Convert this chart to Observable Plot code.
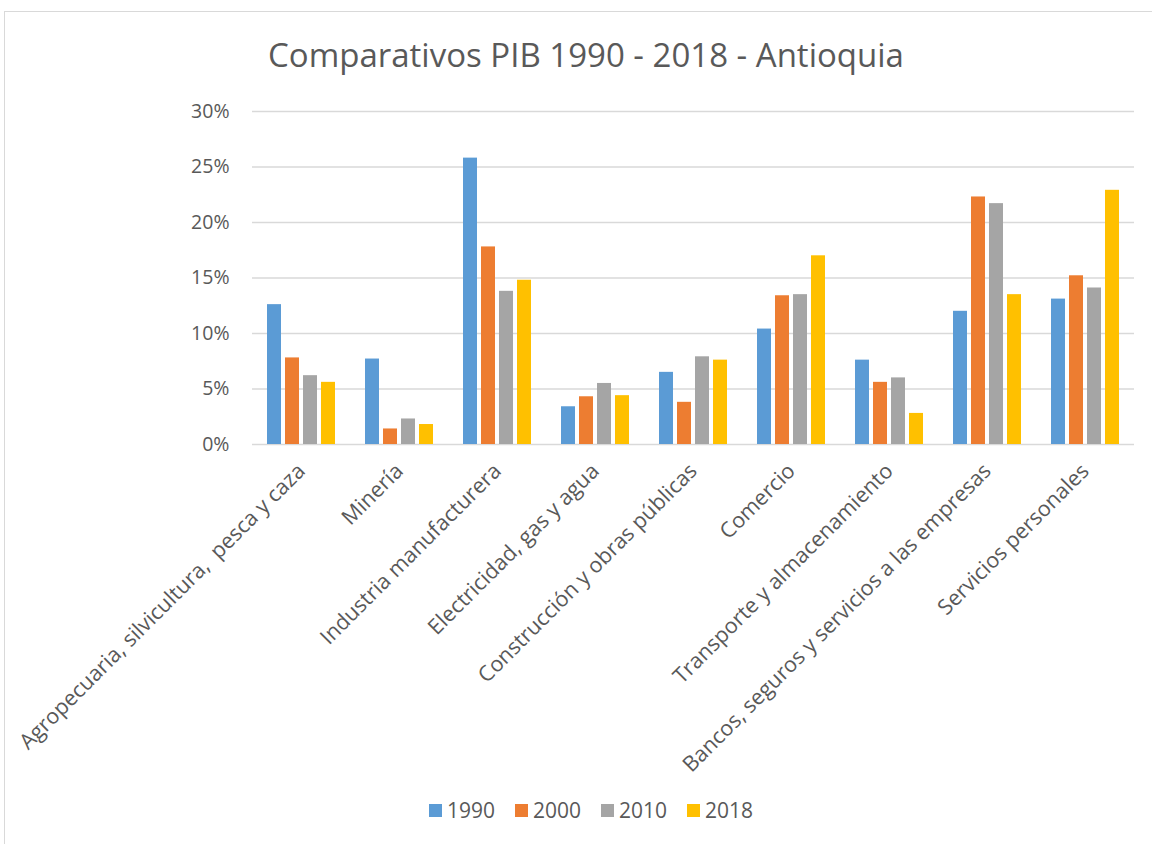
<!DOCTYPE html>
<html>
<head>
<meta charset="utf-8">
<script src="https://cdn.jsdelivr.net/npm/d3@7"></script>
<script src="https://cdn.jsdelivr.net/npm/@observablehq/plot@0.6"></script>
<style>
  html, body { margin: 0; padding: 0; background: #fff; }
  #wrap { position: relative; width: 1152px; height: 844px; overflow: hidden; font-family: "Open Sans", sans-serif; }
  #frame { position: absolute; left: 4px; top: 11px; width: 1170px; height: 850px; border: 1px solid #d9d9d9; box-sizing: border-box; }
  #title { position: absolute; left: 0; top: 32px; width: 1172px; text-align: center; font-size: 33px; color: #595959; font-weight: 400; }
  #chart { position: absolute; left: 0; top: 90px; }
  #legend { position: absolute; left: 0; top: 796px; width: 1182px; display: flex; justify-content: center; gap: 20px; font-size: 21px; color: #595959; }
  #legend .item { display: flex; align-items: center; gap: 5px; }
  #legend .sw { width: 13px; height: 13px; display: inline-block; }
</style>
</head>
<body>
<div id="wrap">
  <div id="frame"></div>
  <div id="title">Comparativos PIB 1990 - 2018 - Antioquia</div>
  <div id="chart"></div>
  <div id="legend"></div>
</div>
<script>
const categories = [
  "Agropecuaria, silvicultura,\u00a0\u00a0pesca y caza",
  "Minería",
  "Industria manufacturera",
  "Electricidad, gas y agua",
  "Construcción y obras públicas",
  "Comercio",
  "Transporte y almacenamiento",
  "Bancos, seguros y servicios a las empresas",
  "Servicios personales"
];
const years = ["1990", "2000", "2010", "2018"];
const colors = ["#5b9bd5", "#ed7d31", "#a5a5a5", "#ffc000"];
const v1990 = [12.6, 7.7, 25.8, 3.4, 6.5, 10.4, 7.6, 12.0, 13.1];
const v2000 = [7.8, 1.4, 17.8, 4.3, 3.8, 13.4, 5.6, 22.3, 15.2];
const v2010 = [6.2, 2.3, 13.8, 5.5, 7.9, 13.5, 6.0, 21.7, 14.1];
const v2018 = [5.6, 1.8, 14.8, 4.4, 7.6, 17.0, 2.8, 13.5, 22.9];
const yTicks = [0, 5, 10, 15, 20, 25, 30];

const series = [v1990, v2000, v2010, v2018];
const data = [];
categories.forEach((c, i) => {
  years.forEach((y, j) => data.push({cat: c, year: y, value: series[j][i] / 100}));
});

const plot = Plot.plot({
  width: 1152,
  height: 684,
  marginTop: 21,
  marginBottom: 330,
  marginLeft: 252,
  marginRight: 18,
  style: {fontFamily: "Open Sans, sans-serif", fontSize: "18px", color: "#595959", background: "transparent", overflow: "visible"},
  fx: {domain: categories, padding: 0, label: null, axis: null},
  x: {domain: years, paddingInner: 0.222, paddingOuter: 0.833, axis: null},
  y: {domain: [0, 0.30], label: null, axis: null},
  color: {domain: years, range: colors},
  marks: [
    Plot.ruleY(yTicks.map(d => d / 100), {stroke: "#d9d9d9", strokeWidth: 1.5}),
    Plot.barY(data, {fx: "cat", x: "year", y: "value", fill: "year", inset: 0}),
    Plot.axisY(yTicks.map(d => d / 100), {tickSize: 0, tickPadding: 23, tickFormat: d => Math.round(d * 100) + "%", fontSize: 19.5, label: null}),
    Plot.axisFx({anchor: "bottom", tickSize: 0, tickPadding: 23, tickRotate: -45, fontSize: 21.5, label: null, textOverflow: null, lineWidth: Infinity})
  ]
});
document.getElementById("chart").appendChild(plot);

const legend = document.getElementById("legend");
years.forEach((y, i) => {
  const it = document.createElement("div");
  it.className = "item";
  it.innerHTML = `<span class="sw" style="background:${colors[i]}"></span><span>${y}</span>`;
  legend.appendChild(it);
});
</script>
</body>
</html>
